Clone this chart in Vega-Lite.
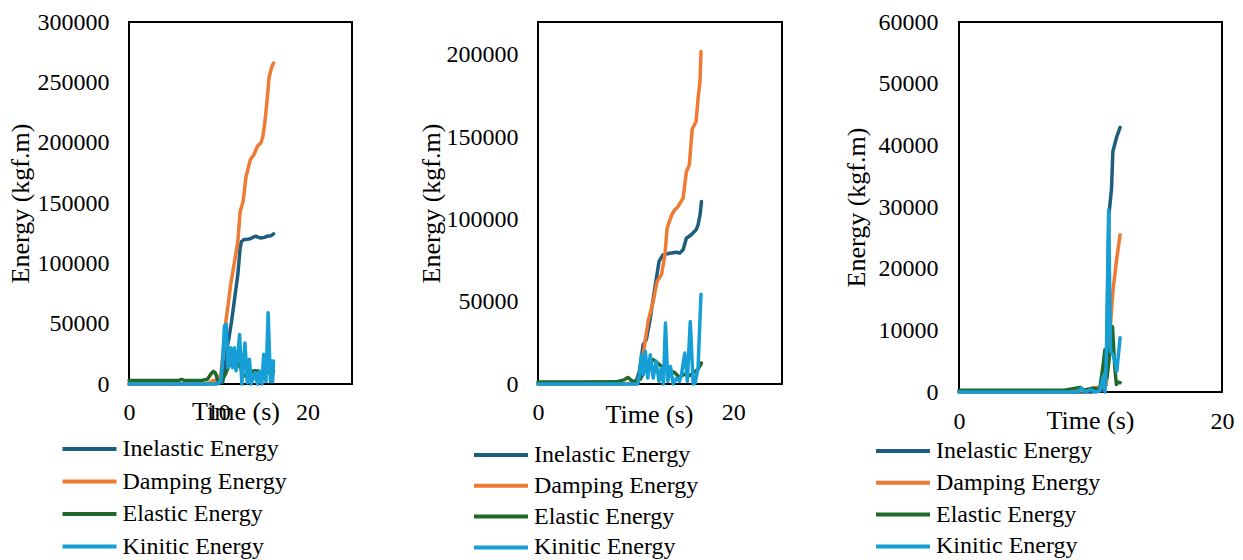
{
  "$schema": "https://vega.github.io/schema/vega-lite/v6.json",
  "autosize": {"type": "pad"},
  "padding": {"left": 6, "top": 9, "right": 0, "bottom": 0},
  "background": "white",
  "config": {
    "font": "Liberation Serif",
    "view": {"stroke": "black", "strokeWidth": 2},
    "axis": {"grid": false, "domain": false, "ticks": false, "labelFont": "Liberation Serif", "labelFontSize": 24, "labelColor": "black", "titleFont": "Liberation Serif", "titleFontSize": 26, "titleFontWeight": "normal", "titleColor": "black", "labelFlush": false},
    "legend": {"labelFont": "Liberation Serif", "labelFontSize": 24, "labelColor": "black", "labelLimit": 400, "symbolType": "stroke", "symbolSize": 2916, "symbolStrokeWidth": 4, "labelOffset": 4, "padding": 0, "clipHeight": 24}
  },
  "resolve": {"scale": {"color": "independent"}, "legend": {"color": "independent"}},
  "spacing": 64,
  "datasets": {
    "p1": [
      {"series": "Inelastic Energy", "t": 0, "E": 0}, {"series": "Inelastic Energy", "t": 2, "E": 0}, {"series": "Inelastic Energy", "t": 4, "E": 0}, {"series": "Inelastic Energy", "t": 6, "E": 0}, {"series": "Inelastic Energy", "t": 8, "E": 0}, {"series": "Inelastic Energy", "t": 9, "E": 200}, {"series": "Inelastic Energy", "t": 10, "E": 500}, {"series": "Inelastic Energy", "t": 10.5, "E": 1500}, {"series": "Inelastic Energy", "t": 10.8, "E": 15000}, {"series": "Inelastic Energy", "t": 11.0, "E": 30000}, {"series": "Inelastic Energy", "t": 11.2, "E": 38000}, {"series": "Inelastic Energy", "t": 11.5, "E": 52000}, {"series": "Inelastic Energy", "t": 11.8, "E": 68500}, {"series": "Inelastic Energy", "t": 12.2, "E": 90700}, {"series": "Inelastic Energy", "t": 12.45, "E": 112000}, {"series": "Inelastic Energy", "t": 12.6, "E": 118000}, {"series": "Inelastic Energy", "t": 12.9, "E": 119700}, {"series": "Inelastic Energy", "t": 13.3, "E": 120000}, {"series": "Inelastic Energy", "t": 13.66, "E": 120500}, {"series": "Inelastic Energy", "t": 14.0, "E": 122000}, {"series": "Inelastic Energy", "t": 14.2, "E": 122500}, {"series": "Inelastic Energy", "t": 14.5, "E": 121500}, {"series": "Inelastic Energy", "t": 14.8, "E": 121000}, {"series": "Inelastic Energy", "t": 15.2, "E": 121500}, {"series": "Inelastic Energy", "t": 15.5, "E": 122500}, {"series": "Inelastic Energy", "t": 15.9, "E": 122800}, {"series": "Inelastic Energy", "t": 16.2, "E": 124400},
      {"series": "Damping Energy", "t": 0, "E": 0}, {"series": "Damping Energy", "t": 4, "E": 0}, {"series": "Damping Energy", "t": 8, "E": 200}, {"series": "Damping Energy", "t": 9, "E": 800}, {"series": "Damping Energy", "t": 9.4, "E": 3000}, {"series": "Damping Energy", "t": 9.8, "E": 2500}, {"series": "Damping Energy", "t": 10.3, "E": 8000}, {"series": "Damping Energy", "t": 10.6, "E": 30000}, {"series": "Damping Energy", "t": 10.86, "E": 52000}, {"series": "Damping Energy", "t": 11.1, "E": 65000}, {"series": "Damping Energy", "t": 11.4, "E": 82400}, {"series": "Damping Energy", "t": 11.8, "E": 100000}, {"series": "Damping Energy", "t": 12.2, "E": 118000}, {"series": "Damping Energy", "t": 12.46, "E": 143000}, {"series": "Damping Energy", "t": 12.8, "E": 151500}, {"series": "Damping Energy", "t": 13.1, "E": 171000}, {"series": "Damping Energy", "t": 13.4, "E": 180000}, {"series": "Damping Energy", "t": 13.6, "E": 186000}, {"series": "Damping Energy", "t": 14.0, "E": 190000}, {"series": "Damping Energy", "t": 14.4, "E": 197000}, {"series": "Damping Energy", "t": 14.8, "E": 200000}, {"series": "Damping Energy", "t": 15.0, "E": 205000}, {"series": "Damping Energy", "t": 15.2, "E": 215000}, {"series": "Damping Energy", "t": 15.4, "E": 229000}, {"series": "Damping Energy", "t": 15.6, "E": 245000}, {"series": "Damping Energy", "t": 15.7, "E": 254000}, {"series": "Damping Energy", "t": 15.97, "E": 262000}, {"series": "Damping Energy", "t": 16.2, "E": 266000},
      {"series": "Elastic Energy", "t": 0, "E": 2800}, {"series": "Elastic Energy", "t": 2, "E": 2800}, {"series": "Elastic Energy", "t": 4, "E": 2800}, {"series": "Elastic Energy", "t": 5.5, "E": 2800}, {"series": "Elastic Energy", "t": 5.9, "E": 3800}, {"series": "Elastic Energy", "t": 6.3, "E": 2800}, {"series": "Elastic Energy", "t": 8, "E": 2800}, {"series": "Elastic Energy", "t": 8.8, "E": 4000}, {"series": "Elastic Energy", "t": 9.2, "E": 8500}, {"series": "Elastic Energy", "t": 9.45, "E": 10500}, {"series": "Elastic Energy", "t": 9.7, "E": 9000}, {"series": "Elastic Energy", "t": 9.95, "E": 2500}, {"series": "Elastic Energy", "t": 10.3, "E": 1500}, {"series": "Elastic Energy", "t": 10.8, "E": 8000}, {"series": "Elastic Energy", "t": 11.2, "E": 15000}, {"series": "Elastic Energy", "t": 11.6, "E": 18000}, {"series": "Elastic Energy", "t": 12.0, "E": 20000}, {"series": "Elastic Energy", "t": 12.4, "E": 15000}, {"series": "Elastic Energy", "t": 12.8, "E": 8000}, {"series": "Elastic Energy", "t": 13.2, "E": 6000}, {"series": "Elastic Energy", "t": 13.6, "E": 9000}, {"series": "Elastic Energy", "t": 14.0, "E": 11000}, {"series": "Elastic Energy", "t": 14.5, "E": 10800}, {"series": "Elastic Energy", "t": 14.9, "E": 8000}, {"series": "Elastic Energy", "t": 15.3, "E": 9000}, {"series": "Elastic Energy", "t": 15.7, "E": 10000}, {"series": "Elastic Energy", "t": 16.2, "E": 10800},
      {"series": "Kinitic Energy", "t": 0, "E": 0}, {"series": "Kinitic Energy", "t": 2, "E": 0}, {"series": "Kinitic Energy", "t": 4, "E": 0}, {"series": "Kinitic Energy", "t": 6, "E": 0}, {"series": "Kinitic Energy", "t": 8, "E": 0}, {"series": "Kinitic Energy", "t": 9.78, "E": 0}, {"series": "Kinitic Energy", "t": 10.3, "E": 2500}, {"series": "Kinitic Energy", "t": 10.5, "E": 20000}, {"series": "Kinitic Energy", "t": 10.7, "E": 48000}, {"series": "Kinitic Energy", "t": 10.9, "E": 49500}, {"series": "Kinitic Energy", "t": 11.1, "E": 13500}, {"series": "Kinitic Energy", "t": 11.4, "E": 30000}, {"series": "Kinitic Energy", "t": 11.6, "E": 13500}, {"series": "Kinitic Energy", "t": 11.8, "E": 30000}, {"series": "Kinitic Energy", "t": 12.0, "E": 11000}, {"series": "Kinitic Energy", "t": 12.2, "E": 25000}, {"series": "Kinitic Energy", "t": 12.4, "E": 41000}, {"series": "Kinitic Energy", "t": 12.65, "E": 0}, {"series": "Kinitic Energy", "t": 12.85, "E": 20000}, {"series": "Kinitic Energy", "t": 13.0, "E": 34000}, {"series": "Kinitic Energy", "t": 13.26, "E": 1000}, {"series": "Kinitic Energy", "t": 13.5, "E": 20500}, {"series": "Kinitic Energy", "t": 13.7, "E": 0}, {"series": "Kinitic Energy", "t": 14.1, "E": 9400}, {"series": "Kinitic Energy", "t": 14.4, "E": 0}, {"series": "Kinitic Energy", "t": 14.6, "E": 10800}, {"series": "Kinitic Energy", "t": 14.9, "E": 0}, {"series": "Kinitic Energy", "t": 15.1, "E": 24600}, {"series": "Kinitic Energy", "t": 15.35, "E": 2000}, {"series": "Kinitic Energy", "t": 15.6, "E": 59000}, {"series": "Kinitic Energy", "t": 15.85, "E": 2000}, {"series": "Kinitic Energy", "t": 15.98, "E": 19000}, {"series": "Kinitic Energy", "t": 16.1, "E": 2000}, {"series": "Kinitic Energy", "t": 16.2, "E": 19000}
    ],
    "p2": [
      {"series": "Inelastic Energy", "t": 0, "E": 0}, {"series": "Inelastic Energy", "t": 4, "E": 0}, {"series": "Inelastic Energy", "t": 8, "E": 0}, {"series": "Inelastic Energy", "t": 10, "E": 300}, {"series": "Inelastic Energy", "t": 10.4, "E": 8000}, {"series": "Inelastic Energy", "t": 10.77, "E": 23900}, {"series": "Inelastic Energy", "t": 11.1, "E": 27000}, {"series": "Inelastic Energy", "t": 11.45, "E": 38000}, {"series": "Inelastic Energy", "t": 11.97, "E": 58300}, {"series": "Inelastic Energy", "t": 12.4, "E": 74500}, {"series": "Inelastic Energy", "t": 12.8, "E": 78500}, {"series": "Inelastic Energy", "t": 13.5, "E": 79500}, {"series": "Inelastic Energy", "t": 14.2, "E": 80100}, {"series": "Inelastic Energy", "t": 14.5, "E": 79500}, {"series": "Inelastic Energy", "t": 14.87, "E": 81600}, {"series": "Inelastic Energy", "t": 15.2, "E": 88600}, {"series": "Inelastic Energy", "t": 15.7, "E": 90700}, {"series": "Inelastic Energy", "t": 16.2, "E": 93700}, {"series": "Inelastic Energy", "t": 16.4, "E": 96700}, {"series": "Inelastic Energy", "t": 16.6, "E": 102800}, {"series": "Inelastic Energy", "t": 16.75, "E": 110900},
      {"series": "Damping Energy", "t": 0, "E": 0}, {"series": "Damping Energy", "t": 4, "E": 0}, {"series": "Damping Energy", "t": 8, "E": 0}, {"series": "Damping Energy", "t": 9.5, "E": 500}, {"series": "Damping Energy", "t": 10.26, "E": 1500}, {"series": "Damping Energy", "t": 10.5, "E": 8000}, {"series": "Damping Energy", "t": 10.77, "E": 17800}, {"series": "Damping Energy", "t": 11.28, "E": 38000}, {"series": "Damping Energy", "t": 11.8, "E": 50200}, {"series": "Damping Energy", "t": 12.2, "E": 62300}, {"series": "Damping Energy", "t": 12.65, "E": 66400}, {"series": "Damping Energy", "t": 13.0, "E": 78500}, {"series": "Damping Energy", "t": 13.23, "E": 94700}, {"series": "Damping Energy", "t": 13.7, "E": 102800}, {"series": "Damping Energy", "t": 14.0, "E": 105800}, {"series": "Damping Energy", "t": 14.36, "E": 107900}, {"series": "Damping Energy", "t": 14.87, "E": 113000}, {"series": "Damping Energy", "t": 15.2, "E": 129000}, {"series": "Damping Energy", "t": 15.5, "E": 133000}, {"series": "Damping Energy", "t": 15.8, "E": 155000}, {"series": "Damping Energy", "t": 16.2, "E": 159500}, {"series": "Damping Energy", "t": 16.4, "E": 173700}, {"series": "Damping Energy", "t": 16.6, "E": 183800}, {"series": "Damping Energy", "t": 16.7, "E": 202000},
      {"series": "Elastic Energy", "t": 0, "E": 1200}, {"series": "Elastic Energy", "t": 4, "E": 1200}, {"series": "Elastic Energy", "t": 8, "E": 1300}, {"series": "Elastic Energy", "t": 8.8, "E": 2500}, {"series": "Elastic Energy", "t": 9.2, "E": 4000}, {"series": "Elastic Energy", "t": 9.6, "E": 2000}, {"series": "Elastic Energy", "t": 10.0, "E": 1500}, {"series": "Elastic Energy", "t": 10.5, "E": 3000}, {"series": "Elastic Energy", "t": 11.0, "E": 9000}, {"series": "Elastic Energy", "t": 11.8, "E": 14800}, {"series": "Elastic Energy", "t": 12.2, "E": 13000}, {"series": "Elastic Energy", "t": 12.6, "E": 11000}, {"series": "Elastic Energy", "t": 13.0, "E": 9000}, {"series": "Elastic Energy", "t": 13.5, "E": 8000}, {"series": "Elastic Energy", "t": 14.0, "E": 7000}, {"series": "Elastic Energy", "t": 14.5, "E": 4000}, {"series": "Elastic Energy", "t": 15.0, "E": 6000}, {"series": "Elastic Energy", "t": 15.5, "E": 5000}, {"series": "Elastic Energy", "t": 16.0, "E": 7000}, {"series": "Elastic Energy", "t": 16.4, "E": 9000}, {"series": "Elastic Energy", "t": 16.75, "E": 12700},
      {"series": "Kinitic Energy", "t": 0, "E": 0}, {"series": "Kinitic Energy", "t": 4, "E": 0}, {"series": "Kinitic Energy", "t": 8, "E": 0}, {"series": "Kinitic Energy", "t": 10.2, "E": 0}, {"series": "Kinitic Energy", "t": 10.4, "E": 5000}, {"series": "Kinitic Energy", "t": 10.6, "E": 17800}, {"series": "Kinitic Energy", "t": 10.8, "E": 5700}, {"series": "Kinitic Energy", "t": 11.0, "E": 19800}, {"series": "Kinitic Energy", "t": 11.25, "E": 3600}, {"series": "Kinitic Energy", "t": 11.5, "E": 17800}, {"series": "Kinitic Energy", "t": 11.8, "E": 3600}, {"series": "Kinitic Energy", "t": 12.1, "E": 13800}, {"series": "Kinitic Energy", "t": 12.4, "E": 1600}, {"series": "Kinitic Energy", "t": 12.65, "E": 9700}, {"series": "Kinitic Energy", "t": 12.85, "E": 0}, {"series": "Kinitic Energy", "t": 13.06, "E": 37000}, {"series": "Kinitic Energy", "t": 13.3, "E": 1600}, {"series": "Kinitic Energy", "t": 13.57, "E": 10700}, {"series": "Kinitic Energy", "t": 13.85, "E": 0}, {"series": "Kinitic Energy", "t": 14.2, "E": 3600}, {"series": "Kinitic Energy", "t": 14.5, "E": 1600}, {"series": "Kinitic Energy", "t": 14.7, "E": 5700}, {"series": "Kinitic Energy", "t": 15.04, "E": 18800}, {"series": "Kinitic Energy", "t": 15.3, "E": 1600}, {"series": "Kinitic Energy", "t": 15.6, "E": 38000}, {"series": "Kinitic Energy", "t": 15.9, "E": 0}, {"series": "Kinitic Energy", "t": 16.1, "E": 500}, {"series": "Kinitic Energy", "t": 16.4, "E": 9700}, {"series": "Kinitic Energy", "t": 16.7, "E": 54600}
    ],
    "p3": [
      {"series": "Inelastic Energy", "t": 0, "E": 0}, {"series": "Inelastic Energy", "t": 4, "E": 0}, {"series": "Inelastic Energy", "t": 8, "E": 0}, {"series": "Inelastic Energy", "t": 10, "E": 0}, {"series": "Inelastic Energy", "t": 10.8, "E": 200}, {"series": "Inelastic Energy", "t": 11.2, "E": 1200}, {"series": "Inelastic Energy", "t": 11.3, "E": 15000}, {"series": "Inelastic Energy", "t": 11.4, "E": 28750}, {"series": "Inelastic Energy", "t": 11.6, "E": 33000}, {"series": "Inelastic Energy", "t": 11.7, "E": 39000}, {"series": "Inelastic Energy", "t": 11.97, "E": 41200}, {"series": "Inelastic Energy", "t": 12.25, "E": 42900},
      {"series": "Damping Energy", "t": 0, "E": 0}, {"series": "Damping Energy", "t": 4, "E": 0}, {"series": "Damping Energy", "t": 8, "E": 0}, {"series": "Damping Energy", "t": 9.5, "E": 300}, {"series": "Damping Energy", "t": 10.2, "E": 650}, {"series": "Damping Energy", "t": 10.8, "E": 800}, {"series": "Damping Energy", "t": 11.2, "E": 1200}, {"series": "Damping Energy", "t": 11.47, "E": 9300}, {"series": "Damping Energy", "t": 11.7, "E": 16300}, {"series": "Damping Energy", "t": 11.97, "E": 21200}, {"series": "Damping Energy", "t": 12.25, "E": 25500},
      {"series": "Elastic Energy", "t": 0, "E": 300}, {"series": "Elastic Energy", "t": 4, "E": 300}, {"series": "Elastic Energy", "t": 8, "E": 300}, {"series": "Elastic Energy", "t": 9.2, "E": 750}, {"series": "Elastic Energy", "t": 9.5, "E": 300}, {"series": "Elastic Energy", "t": 10.2, "E": 600}, {"series": "Elastic Energy", "t": 10.7, "E": 400}, {"series": "Elastic Energy", "t": 10.96, "E": 4400}, {"series": "Elastic Energy", "t": 11.1, "E": 6900}, {"series": "Elastic Energy", "t": 11.25, "E": 2300}, {"series": "Elastic Energy", "t": 11.4, "E": 5000}, {"series": "Elastic Energy", "t": 11.55, "E": 9000}, {"series": "Elastic Energy", "t": 11.67, "E": 10600}, {"series": "Elastic Energy", "t": 11.85, "E": 3900}, {"series": "Elastic Energy", "t": 11.97, "E": 1200}, {"series": "Elastic Energy", "t": 12.1, "E": 1600}, {"series": "Elastic Energy", "t": 12.25, "E": 1500},
      {"series": "Kinitic Energy", "t": 0, "E": 0}, {"series": "Kinitic Energy", "t": 4, "E": 0}, {"series": "Kinitic Energy", "t": 8, "E": 0}, {"series": "Kinitic Energy", "t": 9.0, "E": 0}, {"series": "Kinitic Energy", "t": 9.3, "E": 650}, {"series": "Kinitic Energy", "t": 9.6, "E": 0}, {"series": "Kinitic Energy", "t": 10.0, "E": 400}, {"series": "Kinitic Energy", "t": 10.4, "E": 0}, {"series": "Kinitic Energy", "t": 10.7, "E": 200}, {"series": "Kinitic Energy", "t": 10.96, "E": 2500}, {"series": "Kinitic Energy", "t": 11.1, "E": 0}, {"series": "Kinitic Energy", "t": 11.2, "E": 5000}, {"series": "Kinitic Energy", "t": 11.38, "E": 29500}, {"series": "Kinitic Energy", "t": 11.52, "E": 6600}, {"series": "Kinitic Energy", "t": 11.72, "E": 6000}, {"series": "Kinitic Energy", "t": 11.86, "E": 5000}, {"series": "Kinitic Energy", "t": 12.0, "E": 3350}, {"series": "Kinitic Energy", "t": 12.25, "E": 8800}
    ]
  },
  "hconcat": [
    {
      "width": 223, "height": 362,
      "data": {"name": "p1"},
      "mark": {"type": "line", "strokeWidth": 3.5, "strokeJoin": "round", "strokeCap": "round"},
      "encoding": {
        "x": {"field": "t", "type": "quantitative", "scale": {"domain": [0, 25], "nice": false}, "axis": {"values": [0, 10, 20], "title": "Time (s)", "labelBaseline": "alphabetic", "labelPadding": 35, "titleX": 106.5, "titleY": 35, "titleAlign": "center", "titleBaseline": "alphabetic"}},
        "y": {"field": "E", "type": "quantitative", "scale": {"domain": [0, 300000], "nice": false}, "axis": {"values": [0, 50000, 100000, 150000, 200000, 250000, 300000], "format": "d", "title": "Energy (kgf.m)", "labelPadding": 20, "titleX": -101, "titleBaseline": "alphabetic", "titleAngle": -90}},
        "color": {"field": "series", "type": "nominal", "sort": null, "scale": {"domain": ["Inelastic Energy", "Damping Energy", "Elastic Energy", "Kinitic Energy"], "range": ["#1d5d7d", "#ee7a33", "#1f6a2a", "#159fd6"]}, "legend": {"title": null, "orient": "none", "legendX": -68.5, "legendY": 415, "rowPadding": 8.5}}
      }
    },
    {
      "spacing": 59,
      "resolve": {"scale": {"color": "independent"}, "legend": {"color": "independent"}},
      "hconcat": [
        {
          "width": 244, "height": 362,
          "data": {"name": "p2"},
          "mark": {"type": "line", "strokeWidth": 3.5, "strokeJoin": "round", "strokeCap": "round"},
          "encoding": {
            "x": {"field": "t", "type": "quantitative", "scale": {"domain": [0, 25], "nice": false}, "axis": {"values": [0, 20], "title": "Time (s)", "labelBaseline": "alphabetic", "labelPadding": 35, "titleX": 111, "titleY": 38, "titleAlign": "center", "titleBaseline": "alphabetic"}},
            "y": {"field": "E", "type": "quantitative", "scale": {"domain": [0, 220000], "nice": false}, "axis": {"values": [0, 50000, 100000, 150000, 200000], "format": "d", "title": "Energy (kgf.m)", "labelPadding": 20, "titleX": -99, "titleBaseline": "alphabetic", "titleAngle": -90}},
            "color": {"field": "series", "type": "nominal", "sort": null, "scale": {"domain": ["Inelastic Energy", "Damping Energy", "Elastic Energy", "Kinitic Energy"], "range": ["#1d5d7d", "#ee7a33", "#1f6a2a", "#159fd6"]}, "legend": {"title": null, "orient": "none", "legendX": -66, "legendY": 421, "rowPadding": 6.8}}
          }
        },
        {
          "width": 263, "height": 370,
          "data": {"name": "p3"},
          "mark": {"type": "line", "strokeWidth": 3.5, "strokeJoin": "round", "strokeCap": "round"},
          "encoding": {
            "x": {"field": "t", "type": "quantitative", "scale": {"domain": [0, 20], "nice": false}, "axis": {"values": [0, 20], "title": "Time (s)", "labelBaseline": "alphabetic", "labelPadding": 36, "titleX": 131, "titleY": 36, "titleAlign": "center", "titleBaseline": "alphabetic"}},
            "y": {"field": "E", "type": "quantitative", "scale": {"domain": [0, 60000], "nice": false}, "axis": {"values": [0, 10000, 20000, 30000, 40000, 50000, 60000], "format": "d", "title": "Energy (kgf.m)", "labelPadding": 21, "titleX": -95, "titleBaseline": "alphabetic", "titleAngle": -90}},
            "color": {"field": "series", "type": "nominal", "sort": null, "scale": {"domain": ["Inelastic Energy", "Damping Energy", "Elastic Energy", "Kinitic Energy"], "range": ["#1d5d7d", "#ee7a33", "#1f6a2a", "#159fd6"]}, "legend": {"title": null, "orient": "none", "legendX": -85, "legendY": 417, "rowPadding": 7.8}}
          }
        }
      ]
    }
  ]
}
